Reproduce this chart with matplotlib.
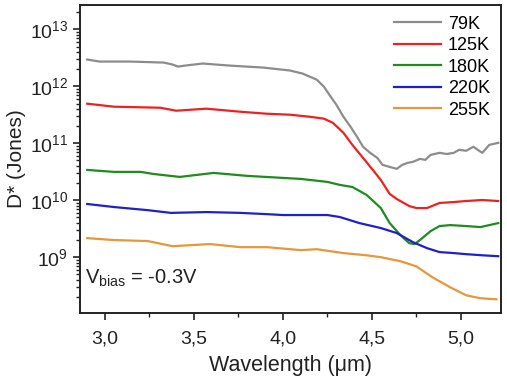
import matplotlib
matplotlib.use("Agg")
import matplotlib.pyplot as plt
from matplotlib.ticker import FixedLocator, FuncFormatter, LogLocator, NullFormatter

plt.rcParams['font.family'] = ['Liberation Sans', 'DejaVu Sans']

# detectivity vs wavelength
wl_79 = [2.90, 2.97, 3.14, 3.33, 3.38, 3.41, 3.45, 3.55, 3.70, 3.89, 4.04, 4.11, 4.19,
         4.23, 4.26, 4.30, 4.34, 4.38, 4.42, 4.45, 4.49, 4.53, 4.56, 4.60, 4.64, 4.67,
         4.70, 4.73, 4.77, 4.80, 4.83, 4.88, 4.92, 4.96, 4.99, 5.03, 5.07, 5.12, 5.16,
         5.21]
d_79 = [2.96e12, 2.73e12, 2.73e12, 2.62e12, 2.42e12, 2.23e12, 2.32e12, 2.52e12, 2.32e12,
        2.14e12, 1.90e12, 1.68e12, 1.31e12, 9.9e11, 7.2e11, 4.77e11, 2.93e11, 1.95e11,
        1.25e11, 8.7e10, 6.8e10, 5.55e10, 4.18e10, 3.85e10, 3.56e10, 4.18e10, 4.53e10,
        4.72e10, 5.33e10, 5.12e10, 6.27e10, 6.8e10, 6.5e10, 6.8e10, 7.7e10, 7.4e10,
        8.7e10, 6.8e10, 9.4e10, 1.02e11]

wl_125 = [2.90, 3.05, 3.31, 3.40, 3.57, 3.76, 3.91, 4.04, 4.15, 4.23, 4.28, 4.34, 4.39,
          4.45, 4.51, 4.55, 4.60, 4.64, 4.67, 4.71, 4.75, 4.81, 4.88, 4.96, 5.03, 5.12,
          5.21]
d_125 = [4.97e11, 4.40e11, 4.22e11, 3.74e11, 4.06e11, 3.59e11, 3.31e11, 3.18e11, 2.93e11,
         2.71e11, 2.30e11, 1.53e11, 9.4e10, 5.55e10, 3.27e10, 2.27e10, 1.29e10, 1.05e10,
         9.3e9, 7.9e9, 7.3e9, 7.3e9, 8.96e9, 9.3e9, 9.7e9, 1.01e10, 9.7e9]

wl_180 = [2.90, 3.05, 3.20, 3.27, 3.42, 3.61, 3.80, 4.10, 4.25, 4.32, 4.39, 4.47, 4.55,
          4.60, 4.66, 4.71, 4.74, 4.77, 4.83, 4.88, 4.94, 5.03, 5.11, 5.21]
d_180 = [3.41e10, 3.15e10, 3.15e10, 2.90e10, 2.57e10, 3.02e10, 2.68e10, 2.37e10, 2.10e10,
         1.86e10, 1.71e10, 1.24e10, 7.3e9, 3.97e9, 2.44e9, 1.76e9, 1.70e9, 2.0e9, 2.87e9,
         3.52e9, 3.66e9, 3.52e9, 3.38e9, 3.97e9]

wl_220 = [2.90, 3.05, 3.24, 3.37, 3.57, 3.76, 3.91, 4.00, 4.25, 4.32, 4.43, 4.55, 4.64,
          4.73, 4.81, 4.88, 4.96, 5.03, 5.12, 5.21]
d_220 = [8.6e9, 7.6e9, 6.7e9, 6.0e9, 6.2e9, 6.0e9, 5.7e9, 5.5e9, 5.5e9, 5.07e9, 3.97e9,
         3.25e9, 2.65e9, 1.84e9, 1.44e9, 1.23e9, 1.18e9, 1.13e9, 1.08e9, 1.04e9]

wl_255 = [2.90, 3.05, 3.24, 3.38, 3.59, 3.76, 3.91, 4.10, 4.19, 4.34, 4.47, 4.55, 4.66,
          4.75, 4.84, 4.94, 5.03, 5.11, 5.20]
d_255 = [2.16e9, 2.00e9, 1.92e9, 1.56e9, 1.70e9, 1.50e9, 1.50e9, 1.33e9, 1.38e9, 1.18e9,
         1.08e9, 1.0e9, 8.5e8, 6.9e8, 4.44e8, 2.96e8, 2.14e8, 1.90e8, 1.82e8]

xticks = [3.0, 3.5, 4.0, 4.5, 5.0]

fig = plt.figure(figsize=(5.07, 3.77), dpi=100)
ax = fig.add_axes([0.158, 0.170, 0.830, 0.817])

ax.plot(wl_79, d_79, color='#8c8c8c', lw=1.6, label='79K')
ax.plot(wl_125, d_125, color='#f02020', lw=1.6, label='125K')
ax.plot(wl_180, d_180, color='#1e8c1e', lw=1.6, label='180K')
ax.plot(wl_220, d_220, color='#2020c8', lw=1.6, label='220K')
ax.plot(wl_255, d_255, color='#e8963c', lw=1.6, label='255K')

ax.set_yscale('log')
ax.set_xlim(2.86, 5.225)
ax.set_ylim(1.05e8, 2.7e13)

ax.xaxis.set_major_locator(FixedLocator(xticks))
ax.xaxis.set_minor_locator(FixedLocator([3.25, 3.75, 4.25, 4.75]))
ax.xaxis.set_major_formatter(FuncFormatter(lambda v, p: ('%.1f' % v).replace('.', ',')))
ax.yaxis.set_major_locator(LogLocator(base=10, numticks=20))
ax.yaxis.set_minor_locator(LogLocator(base=10, subs=range(2, 10), numticks=20))
ax.yaxis.set_minor_formatter(NullFormatter())

ax.tick_params(which='both', direction='out', top=False, right=False,
               labelsize=14, colors='#222222')
ax.tick_params(axis='x', pad=8)
ax.tick_params(which='major', length=5, width=1.2)
ax.tick_params(which='minor', length=3, width=1.0)
for s in ax.spines.values():
    s.set_linewidth(1.4)
    s.set_color('#222222')

ax.set_xlabel('Wavelength (\u03bcm)', fontsize=15.5, color='#222222', labelpad=5)
ax.set_ylabel('D* (Jones)', fontsize=15, color='#222222', labelpad=3)

ax.text(0.012, 0.095, r'$\mathregular{V_{bias}}$ = -0.3V', transform=ax.transAxes,
        fontsize=14.5, color='#222222')

ax.legend(loc='upper right', frameon=False, fontsize=13, handlelength=2.6,
          labelspacing=0.25, handletextpad=0.4, borderaxespad=0.2)

fig.savefig('out.png', dpi=100)
